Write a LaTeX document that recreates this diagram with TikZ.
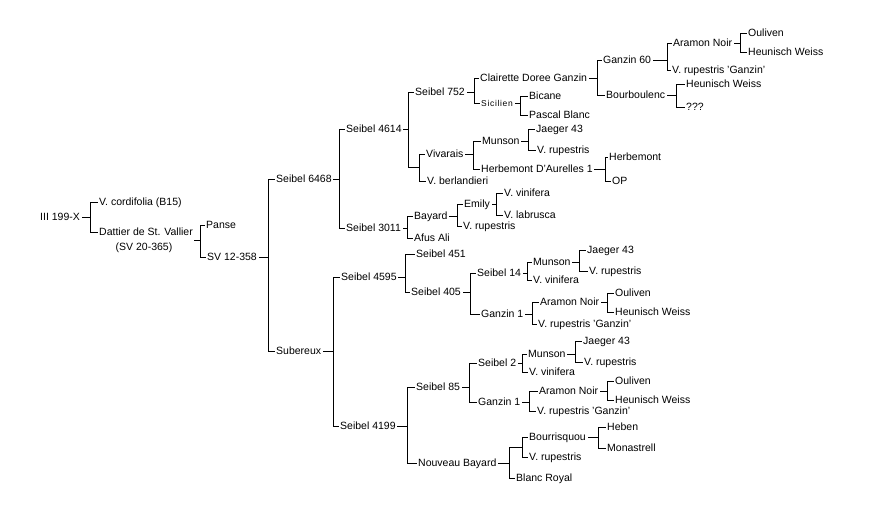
\documentclass[tikz,border=0pt]{standalone}
\usepackage{fontspec}
\setmainfont{Liberation Sans}
\newcommand\pedbr[4]{%
  \coordinate (tmpv) at (#1,0);
  \draw[ln] (#2.east) -- (#2.east -| tmpv);
  \draw[ln] (#3.west -| tmpv) -- (#4.west -| tmpv);
  \draw[ln] (#3.west -| tmpv) -- (#3.west);
  \draw[ln] (#4.west -| tmpv) -- (#4.west);
}
\begin{document}
\begin{tikzpicture}[x=1pt,y=-1pt,
  lbl/.style={anchor=west,xshift=-2pt,inner xsep=2pt,inner ysep=0pt,text height=7.5pt,text depth=0pt,font=\fontsize{10.5}{12}\selectfont},
  jn/.style={inner sep=0pt,minimum size=0pt},
  ln/.style={line width=1pt,black,line cap=rect}]
\fill[white] (0,0) rectangle (889,522);
\useasboundingbox (0,0) rectangle (889,522);
% root
\node[lbl] (a) at (40,217) {III 199-X};
\node[lbl] (b) at (99,202) {V. cordifolia (B15)};
\node[lbl] (c) at (99,232) {Dattier de St. Vallier};
\node[lbl,anchor=center,xshift=0pt] (c2) at (146,247) {(SV 20-365)};
\node[jn] (cx) at (194,240) {};
\node[lbl] (d) at (206,225) {Panse};
\node[lbl] (e) at (207,257) {SV 12-358};
\node[lbl] (f) at (276,179) {Seibel 6468};
\node[lbl] (g) at (276,351) {Subereux};
% Seibel 6468 branch
\node[lbl] (h) at (346,129) {Seibel 4614};
\node[lbl] (i) at (346,228) {Seibel 3011};
\node[lbl] (j) at (415,92) {Seibel 752};
\node[jn] (u1) at (419,167) {};
\node[lbl] (k) at (426,154) {Vivarais};
\node[lbl] (l) at (427,181) {V. berlandieri};
\node[lbl] (m) at (480,78) {Clairette Doree Ganzin};
\node[lbl,font=\fontsize{8.5}{10}\selectfont\addfontfeatures{LetterSpace=8}] (n) at (481,103) {Sicilien};
\node[lbl] (o) at (529,96) {Bicane};
\node[lbl] (p) at (529,115) {Pascal Blanc};
\node[lbl] (q) at (603,60) {Ganzin 60};
\node[lbl] (r) at (606,95) {Bourboulenc};
\node[lbl] (s) at (673,43) {Aramon Noir};
\node[lbl] (t) at (672,70) {V. rupestris 'Ganzin'};
\node[lbl] (u) at (748,33) {Ouliven};
\node[lbl] (v) at (748,52) {Heunisch Weiss};
\node[lbl] (w) at (686,84) {Heunisch Weiss};
\node[lbl] (x) at (686,107) {???};
\node[lbl] (mu1) at (482,141) {Munson};
\node[lbl] (hd) at (481,169) {Herbemont D'Aurelles 1};
\node[lbl] (ja1) at (536,129) {Jaeger 43};
\node[lbl] (vr1) at (537,150) {V. rupestris};
\node[lbl] (hb) at (609,157) {Herbemont};
\node[lbl] (op) at (612,181) {OP};
\node[lbl] (ba) at (414,216) {Bayard};
\node[lbl] (af) at (414,238) {Afus Ali};
\node[lbl] (em) at (464,204) {Emily};
\node[lbl] (vr2) at (463,226) {V. rupestris};
\node[lbl] (vv1) at (504,193) {V. vinifera};
\node[lbl] (vl) at (504,215) {V. labrusca};
% Subereux branch
\node[lbl] (s4595) at (341,277) {Seibel 4595};
\node[lbl] (s4199) at (340,426) {Seibel 4199};
\node[lbl] (s451) at (416,254) {Seibel 451};
\node[lbl] (s405) at (411,292) {Seibel 405};
\node[lbl] (s14) at (477,273) {Seibel 14};
\node[lbl] (g1a) at (481,314) {Ganzin 1};
\node[lbl] (mu2) at (533,262) {Munson};
\node[lbl] (vv2) at (533,280) {V. vinifera};
\node[lbl] (ja2) at (587,250) {Jaeger 43};
\node[lbl] (vr3) at (589,271) {V. rupestris};
\node[lbl] (an2) at (540,302) {Aramon Noir};
\node[lbl] (vg2) at (538,324) {V. rupestris 'Ganzin'};
\node[lbl] (ou2) at (615,293) {Ouliven};
\node[lbl] (hw2) at (615,312) {Heunisch Weiss};
\node[lbl] (s85) at (416,387) {Seibel 85};
\node[lbl] (nb) at (418,463) {Nouveau Bayard};
\node[lbl] (s2) at (478,363) {Seibel 2};
\node[lbl] (g1b) at (478,402) {Ganzin 1};
\node[lbl] (mu3) at (528,354) {Munson};
\node[lbl] (vv3) at (529,372) {V. vinifera};
\node[lbl] (ja3) at (583,341) {Jaeger 43};
\node[lbl] (vr4) at (584,362) {V. rupestris};
\node[lbl] (an3) at (539,391) {Aramon Noir};
\node[lbl] (vg3) at (537,411) {V. rupestris 'Ganzin'};
\node[lbl] (ou3) at (615,381) {Ouliven};
\node[lbl] (hw3) at (615,400) {Heunisch Weiss};
\node[jn] (u2) at (522,447) {};
\node[lbl] (bq) at (529,437) {Bourrisquou};
\node[lbl] (vr5) at (529,457) {V. rupestris};
\node[lbl] (br) at (516,478) {Blanc Royal};
\node[lbl] (hbn) at (607,427) {Heben};
\node[lbl] (mo) at (607,448) {Monastrell};
% brackets
\pedbr{90}{a}{b}{c}
\pedbr{200}{cx}{d}{e}
\pedbr{268}{e}{f}{g}
\pedbr{339}{f}{h}{i}
\pedbr{408}{h}{j}{u1}
\pedbr{419}{u1}{k}{l}
\pedbr{474}{j}{m}{n}
\pedbr{597}{m}{q}{r}
\pedbr{667}{q}{s}{t}
\pedbr{740}{s}{u}{v}
\pedbr{676}{r}{w}{x}
\pedbr{520}{n}{o}{p}
\pedbr{473}{k}{mu1}{hd}
\pedbr{528}{mu1}{ja1}{vr1}
\pedbr{605}{hd}{hb}{op}
\pedbr{407}{i}{ba}{af}
\pedbr{457}{ba}{em}{vr2}
\pedbr{496}{em}{vv1}{vl}
\pedbr{333}{g}{s4595}{s4199}
\pedbr{405}{s4595}{s451}{s405}
\pedbr{470}{s405}{s14}{g1a}
\pedbr{527}{s14}{mu2}{vv2}
\pedbr{579}{mu2}{ja2}{vr3}
\pedbr{532}{g1a}{an2}{vg2}
\pedbr{607}{an2}{ou2}{hw2}
\pedbr{407}{s4199}{s85}{nb}
\pedbr{469}{s85}{s2}{g1b}
\pedbr{522}{s2}{mu3}{vv3}
\pedbr{575}{mu3}{ja3}{vr4}
\pedbr{529}{g1b}{an3}{vg3}
\pedbr{607}{an3}{ou3}{hw3}
\pedbr{509}{nb}{u2}{br}
\pedbr{522}{u2}{bq}{vr5}
\pedbr{598}{bq}{hbn}{mo}
\end{tikzpicture}
\end{document}
